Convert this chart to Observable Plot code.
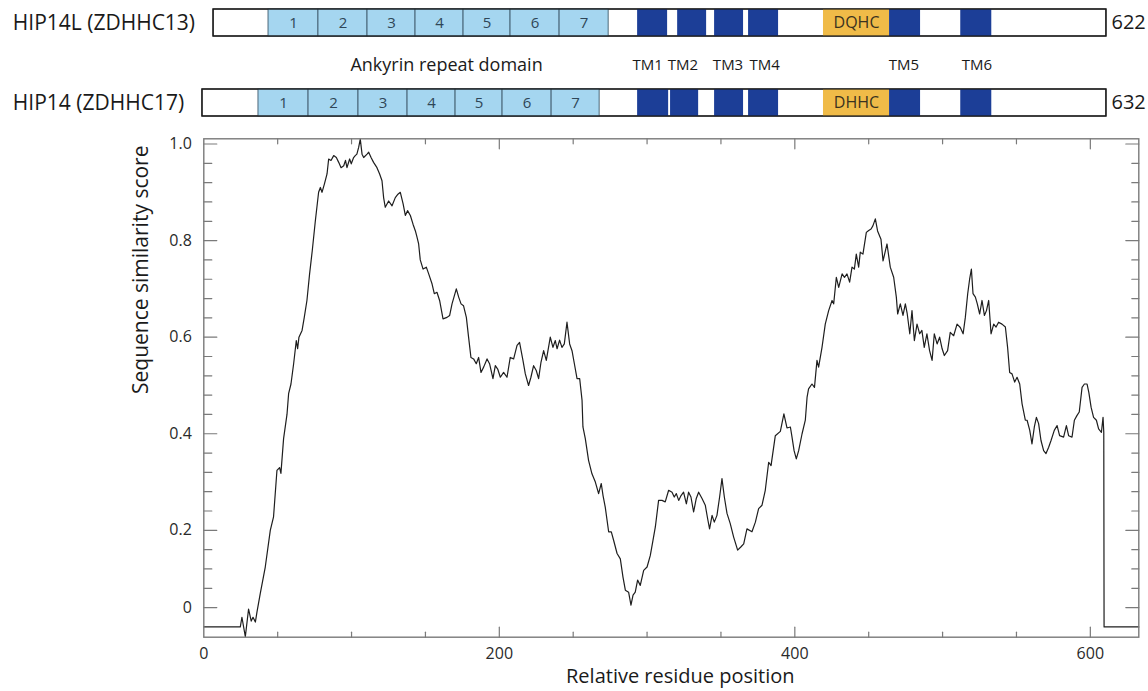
<!DOCTYPE html>
<html>
<head>
<meta charset="utf-8">
<script src="https://cdn.jsdelivr.net/npm/d3@7"></script>
<script src="https://cdn.jsdelivr.net/npm/@observablehq/plot@0.6"></script>
<style>
  html, body { margin: 0; padding: 0; background: #fff; }
  #chart svg { display: block; }
</style>
</head>
<body>
<div id="chart"></div>
<script>
// ---------- Domain diagram data (positions on the relative residue axis) ----------
const proteins = ["HIP14L (ZDHHC13)", "HIP14 (ZDHHC17)"];
const proteinLengths = [622, 632];
const boxStart = [6.6, -0.9];
const boxEnd = [610.9, 610.9];
const repeatNumbers = ["1", "2", "3", "4", "5", "6", "7"];
const repeatBoundsL = [43.8, 77.6, 110.8, 143.3, 175.8, 207.6, 240.8, 274.0];
const repeatBounds14 = [37.0, 70.9, 104.7, 137.9, 170.4, 202.2, 235.4, 267.9];
const tmStartL = [293.6, 320.7, 345.7, 368.7, 464.1, 512.3];
const tmEndL   = [313.9, 340.3, 365.3, 389.0, 485.1, 533.3];
const tmStart14 = [293.6, 315.9, 345.7, 368.7, 464.1, 512.3];
const tmEnd14   = [314.6, 334.9, 365.3, 389.0, 485.1, 533.3];
const motifNames = ["DQHC", "DHHC"];
const motifStart = [419.4, 419.4];
const motifEnd = [464.1, 464.1];
const annotationLabels = ["Ankyrin repeat domain", "TM1", "TM2", "TM3", "TM4", "TM5", "TM6"];
const annotationPos = [164.3, 300.4, 324.3, 354.8, 379.6, 473.8, 523.2];

// ---------- Similarity curve data ----------
const residuePos = [0, 24.7, 25.8, 28.1, 30.3, 32.1, 33.3, 34.9, 36.0, 38.2, 41.6, 45.0, 47.2, 49.5, 51.3, 52.2, 54.0, 56.3, 57.4, 59.0,
  60.8, 62.6, 63.5, 64.4, 66.5, 68.0, 69.8, 71.6, 73.4, 75.5, 77.7, 78.9, 80.0, 81.6, 83.4, 84.5, 86.1, 87.9, 89.7, 91.3,
  92.9, 94.7, 95.9, 96.9, 98.7, 99.8, 101.4, 102.5, 103.6, 104.8, 105.9, 107.1, 108.2, 110.5, 111.6, 113.2, 114.9, 117.2, 119.0, 120.6,
  121.7, 122.8, 125.1, 127.4, 129.6, 131.4, 133.0, 134.9, 136.4, 137.9, 139.8, 141.6, 143.2, 144.3, 145.4, 146.5, 148.4, 150.6, 152.2, 154.5,
  156.0, 157.8, 159.6, 161.9, 164.6, 166.4, 168.0, 170.9, 172.5, 174.1, 175.8, 177.7, 179.2, 180.8, 182.6, 184.4, 186.0, 187.6, 189.4, 191.7,
  193.4, 195.7, 197.3, 198.9, 200.7, 202.9, 205.2, 207.4, 209.7, 212.0, 213.7, 216.0, 217.6, 219.8, 221.4, 223.2, 225.0, 226.6, 228.2, 230.0,
  231.8, 234.5, 236.3, 237.9, 239.1, 240.8, 242.4, 244.0, 245.8, 247.6, 249.2, 250.8, 252.6, 254.4, 256.0, 256.6, 258.2, 260.4, 262.7, 265.0,
  267.2, 269.0, 270.2, 271.7, 274.0, 275.8, 277.4, 279.7, 281.9, 283.7, 285.3, 287.5, 289.1, 290.5, 292.0, 293.6, 295.4, 297.7, 300.0, 302.2,
  304.0, 305.6, 307.8, 310.1, 312.3, 314.6, 316.9, 318.4, 319.8, 321.4, 323.0, 324.7, 326.6, 328.1, 329.7, 331.5, 333.3, 334.9, 337.2, 339.4,
  341.0, 342.3, 344.0, 345.5, 347.3, 349.1, 350.7, 352.3, 354.1, 356.3, 358.6, 361.3, 363.6, 365.4, 367.6, 371.0, 373.3, 375.5, 377.8, 380.0,
  382.3, 383.9, 386.8, 390.2, 392.6, 394.7, 397.0, 398.1, 399.5, 401.0, 402.6, 404.9, 407.1, 408.3, 409.3, 411.6, 413.3, 415.0, 416.1, 418.4,
  420.6, 422.9, 425.2, 426.3, 428.1, 429.7, 432.0, 433.6, 435.3, 437.1, 438.7, 440.3, 441.6, 443.2, 444.3, 446.1, 448.4, 450.0, 451.6, 452.9,
  454.5, 456.0, 458.3, 459.7, 462.4, 464.6, 466.9, 468.7, 469.6, 471.4, 473.2, 474.8, 476.0, 477.8, 479.3, 480.9, 482.7, 484.5, 486.0, 487.6,
  489.4, 491.2, 492.9, 494.4, 496.3, 498.0, 499.7, 501.2, 503.4, 505.2, 507.5, 509.8, 512.0, 513.9, 515.4, 517.0, 518.3, 519.5, 520.6, 522.2,
  523.5, 525.1, 526.7, 528.3, 529.7, 531.2, 532.8, 534.6, 536.2, 537.9, 540.2, 542.5, 544.0, 545.4, 547.0, 548.8, 550.4, 552.2, 553.8, 556.0,
  557.2, 559.0, 560.5, 562.1, 563.5, 565.0, 566.6, 568.4, 570.0, 571.8, 573.4, 575.6, 577.5, 579.2, 581.9, 583.8, 585.3, 587.6, 589.2, 591.0,
  592.5, 594.4, 596.0, 597.8, 599.0, 600.5, 602.2, 604.1, 605.6, 607.5, 608.6, 609.1, 609.3, 632.8];
const similarity = [0.000, 0.000, 0.020, -0.020, 0.037, 0.012, 0.020, 0.010, 0.031, 0.069, 0.124, 0.200, 0.228, 0.324, 0.330, 0.318, 0.390, 0.440, 0.483, 0.503,
  0.545, 0.593, 0.576, 0.600, 0.614, 0.641, 0.676, 0.731, 0.779, 0.841, 0.900, 0.910, 0.900, 0.917, 0.938, 0.969, 0.966, 0.976, 0.972, 0.962,
  0.951, 0.955, 0.966, 0.951, 0.969, 0.959, 0.972, 0.976, 0.979, 0.993, 1.010, 0.979, 0.972, 0.979, 0.983, 0.972, 0.962, 0.951, 0.938, 0.924,
  0.889, 0.869, 0.882, 0.872, 0.889, 0.896, 0.900, 0.876, 0.852, 0.862, 0.852, 0.834, 0.820, 0.807, 0.793, 0.760, 0.741, 0.745, 0.731, 0.710,
  0.690, 0.693, 0.676, 0.638, 0.641, 0.645, 0.669, 0.700, 0.683, 0.669, 0.665, 0.641, 0.600, 0.558, 0.555, 0.545, 0.558, 0.527, 0.538, 0.555,
  0.545, 0.514, 0.541, 0.534, 0.517, 0.527, 0.517, 0.558, 0.555, 0.583, 0.589, 0.552, 0.524, 0.500, 0.517, 0.541, 0.531, 0.514, 0.548, 0.572,
  0.552, 0.600, 0.579, 0.593, 0.576, 0.594, 0.579, 0.586, 0.631, 0.586, 0.572, 0.545, 0.514, 0.514, 0.469, 0.414, 0.390, 0.345, 0.317, 0.300,
  0.276, 0.297, 0.272, 0.248, 0.197, 0.197, 0.179, 0.152, 0.141, 0.103, 0.076, 0.072, 0.045, 0.066, 0.072, 0.097, 0.086, 0.117, 0.124, 0.148,
  0.179, 0.207, 0.262, 0.262, 0.259, 0.283, 0.279, 0.269, 0.276, 0.262, 0.272, 0.279, 0.255, 0.279, 0.269, 0.238, 0.266, 0.279, 0.266, 0.252,
  0.224, 0.203, 0.231, 0.217, 0.231, 0.269, 0.307, 0.269, 0.235, 0.214, 0.186, 0.159, 0.166, 0.172, 0.203, 0.197, 0.217, 0.245, 0.252, 0.283,
  0.341, 0.334, 0.396, 0.405, 0.441, 0.412, 0.414, 0.393, 0.365, 0.348, 0.365, 0.400, 0.428, 0.476, 0.493, 0.503, 0.496, 0.552, 0.538, 0.579,
  0.627, 0.655, 0.676, 0.669, 0.724, 0.703, 0.731, 0.724, 0.731, 0.714, 0.745, 0.741, 0.772, 0.745, 0.776, 0.772, 0.817, 0.821, 0.824, 0.831,
  0.845, 0.820, 0.803, 0.758, 0.793, 0.745, 0.724, 0.683, 0.648, 0.669, 0.645, 0.669, 0.650, 0.607, 0.655, 0.593, 0.627, 0.607, 0.614, 0.579,
  0.607, 0.572, 0.552, 0.607, 0.586, 0.600, 0.576, 0.562, 0.572, 0.610, 0.603, 0.627, 0.620, 0.607, 0.641, 0.690, 0.720, 0.741, 0.690, 0.683,
  0.669, 0.648, 0.676, 0.645, 0.655, 0.676, 0.607, 0.627, 0.621, 0.631, 0.627, 0.621, 0.579, 0.527, 0.524, 0.507, 0.517, 0.503, 0.462, 0.428,
  0.428, 0.407, 0.379, 0.414, 0.434, 0.421, 0.386, 0.365, 0.359, 0.372, 0.386, 0.407, 0.417, 0.396, 0.393, 0.417, 0.396, 0.393, 0.428, 0.438,
  0.445, 0.496, 0.503, 0.503, 0.485, 0.455, 0.434, 0.428, 0.410, 0.403, 0.434, 0.403, 0.000, 0.000];

// ---------- Axis tick data ----------
const xTickValues = [0, 200, 400, 600];
const xTickLabels = ["0", "200", "400", "600"];
const xMinorTicks = [50, 100, 150, 250, 300, 350, 450, 500, 550];
const xMajorTicks = [200, 400, 600];
const yTickValues = [0.04, 0.2, 0.4, 0.6, 0.8, 1.0];
const yTickLabels = ["0", "0.2", "0.4", "0.6", "0.8", "1.0"];
const yMinorTicks = [0.08, 0.12, 0.16, 0.24, 0.28, 0.32, 0.36, 0.44, 0.48, 0.52, 0.56, 0.64, 0.68, 0.72, 0.76, 0.84, 0.88, 0.92, 0.96];

// ---------- Build tables ----------
const boxes = proteins.map((p, i) => ({protein: p, start: boxStart[i], end: boxEnd[i], length: proteinLengths[i]}));
const repeats = [];
[repeatBoundsL, repeatBounds14].forEach((b, i) => {
  repeatNumbers.forEach((n, k) => repeats.push({protein: proteins[i], x1: b[k], x2: b[k + 1], n}));
});
const tms = [];
[[tmStartL, tmEndL], [tmStart14, tmEnd14]].forEach(([s, e], i) => {
  s.forEach((v, k) => tms.push({protein: proteins[i], x1: v, x2: e[k]}));
});
const motifs = proteins.map((p, i) => ({protein: p, name: motifNames[i], x1: motifStart[i], x2: motifEnd[i]}));
const annotRow = "annotations";
const annotations = annotationLabels.map((t, i) => ({text: t, x: annotationPos[i]}));
const curve = residuePos.map((x, i) => ({x, y: similarity[i]}));

const FONT = "'Open Sans', 'Noto Sans', sans-serif";
const W = 1148;
const ML = 203.3, MR = 9.7;
const XDOM = [0, 632.8];
const tickShape = {draw(context, l) { context.moveTo(0, 0); context.lineTo(0, -l); }};
const axisGray = "#7a7a7a";

// ---------- Top: domain diagram ----------
const diagram = Plot.plot({
  width: W, height: 128,
  marginLeft: ML, marginRight: MR, marginTop: 8, marginBottom: 10,
  x: {domain: XDOM, axis: null},
  y: {type: "band", domain: [proteins[0], annotRow, proteins[1]], paddingInner: 0.317, paddingOuter: 0, axis: null},
  style: {fontFamily: FONT, background: "white", overflow: "visible"},
  marks: [
    Plot.barX(boxes, {x1: "start", x2: "end", y: "protein", fill: "white", stroke: "#1a1a1a", strokeWidth: 1.2}),
    Plot.barX(repeats, {x1: "x1", x2: "x2", y: "protein", fill: "#a5d6f0", stroke: "#3f5a6c", strokeWidth: 0.9}),
    Plot.barX(tms, {x1: "x1", x2: "x2", y: "protein", fill: "#1c3e97"}),
    Plot.barX(motifs, {x1: "x1", x2: "x2", y: "protein", fill: "#f0bb48"}),
    Plot.barX(boxes, {x1: "start", x2: "end", y: "protein", fill: "none", stroke: "#1a1a1a", strokeWidth: 1.2}),
    Plot.text(repeats, {x: d => (d.x1 + d.x2) / 2, y: "protein", text: "n", fontSize: 15, fill: "#2f4657"}),
    Plot.text(motifs, {x: d => (d.x1 + d.x2) / 2, y: "protein", text: "name", fontSize: 16, fill: "#3a3220"}),
    Plot.text(annotations, {x: "x", y: () => annotRow, text: "text", fontSize: d => d.text.length > 4 ? 18 : 15, dy: 2, fill: "#1a1a1a"}),
    Plot.text(boxes, {y: "protein", text: "protein", frameAnchor: "left", dx: -191, textAnchor: "start", fontSize: 21, fill: "#1a1a1a"}),
    Plot.text(boxes, {x: "end", y: "protein", text: d => String(d.length), dx: 5, textAnchor: "start", fontSize: 20, fill: "#1a1a1a"})
  ]
});

// ---------- Main: similarity plot ----------
const yLabelMap = new Map(yTickValues.map((v, i) => [v, yTickLabels[i]]));
const xLabelMap = new Map(xTickValues.map((v, i) => [v, xTickLabels[i]]));
const tickStyle = {shape: tickShape, anchor: "start", stroke: axisGray, strokeWidth: 1.2};

const main = Plot.plot({
  width: W, height: 563,
  marginLeft: ML, marginRight: MR, marginTop: 10.3, marginBottom: 54.3,
  x: {domain: XDOM, axis: null},
  y: {domain: [-0.0213, 1.0108], axis: null},
  style: {fontFamily: FONT, fontSize: "16px", background: "white", overflow: "visible"},
  marks: [
    Plot.vector(xMinorTicks, {x: d => d, frameAnchor: "bottom", rotate: 0, length: 5, ...tickStyle}),
    Plot.vector(xMajorTicks, {x: d => d, frameAnchor: "bottom", rotate: 0, length: 10, ...tickStyle}),
    Plot.vector(xMinorTicks, {x: d => d, frameAnchor: "top", rotate: 180, length: 5, ...tickStyle}),
    Plot.vector(xMajorTicks, {x: d => d, frameAnchor: "top", rotate: 180, length: 10, ...tickStyle}),
    Plot.vector(yMinorTicks, {y: d => d, frameAnchor: "left", rotate: 90, length: 8, ...tickStyle}),
    Plot.vector(yTickValues, {y: d => d, frameAnchor: "left", rotate: 90, length: 13, ...tickStyle}),
    Plot.vector(yMinorTicks, {y: d => d, frameAnchor: "right", rotate: -90, length: 7, ...tickStyle}),
    Plot.vector(yTickValues, {y: d => d, frameAnchor: "right", rotate: -90, length: 13, ...tickStyle}),
    Plot.axisX(xTickValues, {anchor: "bottom", tickSize: 0, tickPadding: 10, tickFormat: d => xLabelMap.get(d), label: null, fill: "#2a2a2a"}),
    Plot.axisY(yTickValues, {anchor: "left", tickSize: 0, tickPadding: 12, tickFormat: d => yLabelMap.get(d), label: null, fill: "#2a2a2a"}),
    Plot.line(curve, {x: "x", y: "y", stroke: "#1e1e1e", strokeWidth: 1.2, strokeLinejoin: "round"}),
    Plot.frame({stroke: axisGray, strokeWidth: 1.4}),
    Plot.text(["Relative residue position"], {frameAnchor: "bottom", dx: 9, dy: 46, text: d => d, fontSize: 20, fill: "#1a1a1a"}),
    Plot.text(["Sequence similarity score"], {frameAnchor: "left", dx: -63, dy: 6, rotate: -90, text: d => d, fontSize: 21, fill: "#1a1a1a"})
  ]
});

const chart = document.getElementById("chart");
chart.append(diagram, main);
</script>
</body>
</html>
